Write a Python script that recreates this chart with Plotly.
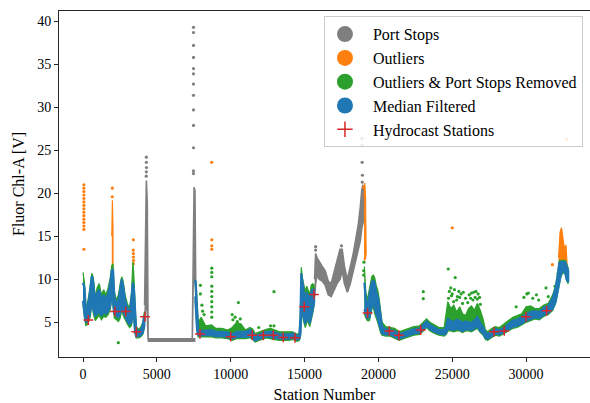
import plotly.graph_objects as go

# ---------------- data ----------------
# Median filtered series, drawn as low/high envelopes per segment
blue_a_station = [0, 100, 200, 300, 420, 520, 600, 700, 830, 950, 1100, 1250, 1400, 1550, 1700, 1850, 1950, 2030, 2120, 2250, 2400, 2520, 2620, 2720, 2850, 3000, 3150, 3280, 3380, 3440, 3520, 3600, 3750, 3900, 4050, 4150]
blue_a_low = [7.5, 6.0, 5.0, 5.2, 5.6, 6.5, 8.0, 6.5, 5.8, 6.0, 6.2, 5.8, 6.2, 6.0, 6.3, 7.0, 8.5, 7.5, 6.0, 5.8, 5.6, 6.0, 7.0, 6.3, 5.8, 5.2, 4.8, 5.0, 6.5, 6.0, 4.0, 3.4, 3.4, 3.5, 3.8, 4.6]
blue_a_high = [9.6, 9.0, 6.2, 6.6, 7.8, 9.0, 10.4, 9.6, 7.2, 8.4, 8.8, 7.6, 8.2, 7.6, 8.3, 9.5, 11.0, 11.2, 8.0, 7.0, 7.6, 8.8, 10.0, 9.2, 7.6, 6.6, 6.0, 7.8, 9.6, 9.0, 6.0, 4.2, 3.9, 4.1, 4.6, 5.8]

blue_b_station = [7600, 7650, 7720, 7800, 8000, 8300, 8700, 9000, 9400, 9800, 10100, 10400, 10700, 11000, 11300, 11500, 11650, 11800, 12100, 12400, 12700, 13000, 13300, 13600, 13900, 14200, 14500, 14650, 14720, 14780, 14850, 14950, 15050, 15150, 15250, 15350, 15450, 15550, 15650]
blue_b_low = [8.0, 6.0, 4.2, 3.5, 3.5, 3.5, 3.5, 3.4, 3.4, 3.3, 3.1, 3.3, 3.3, 3.3, 3.4, 3.2, 2.9, 3.0, 3.2, 3.4, 3.3, 3.2, 3.1, 3.1, 3.1, 3.2, 3.0, 3.1, 3.6, 6.0, 6.5, 5.5, 4.8, 5.5, 5.5, 4.9, 5.8, 6.5, 7.4]
blue_b_high = [9.9, 9.0, 6.5, 4.1, 4.0, 4.0, 4.1, 3.9, 3.9, 3.8, 3.6, 3.9, 3.9, 3.9, 4.1, 3.8, 3.4, 3.5, 3.7, 3.9, 3.9, 3.8, 3.6, 3.6, 3.6, 3.7, 3.4, 3.6, 5.5, 10.7, 9.5, 8.5, 7.5, 8.5, 8.0, 7.5, 8.5, 8.8, 8.8]

blue_c_station = [19050, 19150, 19250, 19400, 19550, 19650, 19750, 19850, 19950, 20050, 20150, 20250, 20500, 20800, 21100, 21400, 21700, 22000, 22400, 22800, 23050, 23260, 23500, 23800, 24100, 24450, 24600, 24700, 24900, 25100, 25300, 25500, 25700, 25900, 26100, 26300, 26500, 26700, 26900, 27100, 27250, 27400, 27600, 27900, 28200, 28500, 28800, 29100, 29400, 29700, 30000, 30300, 30600, 30900, 31200, 31500, 31800, 32000, 32150, 32250, 32350, 32500, 32650, 32750, 32850]
blue_c_low = [6.5, 6.0, 5.5, 5.6, 7.0, 7.2, 6.5, 6.0, 5.5, 5.0, 4.2, 3.7, 3.6, 3.6, 3.4, 3.1, 3.3, 3.5, 3.7, 3.8, 4.2, 4.6, 4.2, 3.9, 3.7, 3.6, 3.8, 4.3, 4.2, 4.1, 4.3, 4.2, 4.0, 4.2, 4.2, 4.1, 4.3, 4.6, 4.0, 3.7, 3.2, 3.1, 3.4, 3.7, 3.6, 3.8, 4.2, 4.5, 4.6, 4.9, 5.2, 5.4, 5.6, 5.5, 5.9, 6.1, 6.6, 7.4, 8.5, 9.5, 10.5, 11.0, 10.8, 10.0, 9.7]
blue_c_high = [9.6, 7.5, 6.8, 8.0, 9.6, 9.9, 9.5, 8.5, 8.0, 7.0, 5.8, 4.5, 4.2, 4.1, 4.0, 3.6, 3.8, 4.0, 4.2, 4.3, 4.8, 5.1, 4.7, 4.4, 4.1, 4.1, 4.5, 5.4, 5.2, 5.0, 5.3, 5.2, 4.9, 5.1, 5.0, 4.9, 5.2, 5.6, 4.9, 4.4, 3.8, 3.6, 3.9, 4.2, 4.1, 4.3, 4.8, 5.2, 5.3, 5.6, 6.0, 6.2, 6.3, 6.2, 6.7, 6.9, 7.8, 9.0, 10.5, 11.9, 12.0, 12.0, 12.0, 11.5, 11.0]

# Outliers & port stops removed (green) envelopes, same stations as blue segments
green_a_low = [7.2, 5.5, 4.6, 4.8, 5.2, 6.0, 7.5, 6.0, 5.2, 5.5, 5.8, 5.3, 5.7, 5.6, 5.9, 6.5, 8.0, 7.0, 5.5, 5.3, 5.1, 5.5, 6.5, 5.8, 5.3, 4.8, 4.4, 4.6, 6.0, 5.5, 3.7, 3.2, 3.2, 3.3, 3.6, 4.4]
green_a_high = [10.8, 9.6, 6.8, 7.2, 8.4, 9.6, 10.7, 10.2, 7.8, 9.0, 9.5, 8.2, 8.8, 8.2, 9.0, 10.2, 11.6, 11.8, 8.6, 7.6, 8.2, 9.5, 10.3, 9.8, 8.2, 7.2, 6.6, 8.4, 12.0, 10.5, 7.0, 4.5, 4.2, 4.4, 5.0, 6.2]
green_b_low = [7.5, 5.5, 4.0, 3.3, 3.3, 3.3, 3.3, 3.2, 3.2, 3.1, 2.9, 3.1, 3.1, 3.1, 3.2, 3.0, 2.7, 2.8, 3.0, 3.2, 3.1, 3.0, 2.9, 2.9, 2.9, 3.0, 2.8, 2.9, 3.4, 5.6, 6.0, 5.0, 4.4, 5.0, 5.0, 4.5, 5.3, 6.0, 7.0]
green_b_high = [10.0, 9.6, 7.5, 5.0, 5.6, 4.6, 4.7, 4.3, 4.3, 4.1, 4.4, 5.0, 4.8, 4.1, 4.4, 4.2, 3.7, 3.8, 4.0, 4.2, 4.3, 4.1, 3.9, 3.9, 3.9, 3.9, 3.6, 3.8, 6.0, 11.4, 10.2, 9.2, 8.6, 9.2, 8.8, 8.2, 9.3, 9.5, 9.3]
green_c_low = [6.0, 5.5, 5.2, 5.2, 6.5, 6.8, 6.0, 5.5, 5.0, 4.5, 3.8, 3.5, 3.4, 3.4, 3.2, 2.9, 3.1, 3.3, 3.5, 3.6, 4.0, 4.4, 4.0, 3.7, 3.5, 3.4, 3.6, 4.0, 4.0, 3.9, 4.0, 4.0, 3.8, 4.0, 4.0, 3.9, 4.1, 4.3, 3.8, 3.5, 3.0, 2.9, 3.2, 3.5, 3.4, 3.6, 4.0, 4.3, 4.4, 4.7, 5.0, 5.2, 5.4, 5.3, 5.7, 5.9, 6.4, 7.2, 8.3, 9.3, 10.3, 10.8, 10.6, 9.8, 9.5]
green_c_high = [11.5, 8.5, 7.6, 8.8, 10.3, 10.5, 10.2, 9.3, 8.8, 7.8, 6.5, 5.0, 4.5, 4.4, 4.3, 3.9, 4.1, 4.3, 4.5, 4.6, 5.1, 5.4, 5.0, 4.7, 4.4, 4.4, 6.0, 7.4, 6.6, 7.0, 6.2, 6.8, 6.0, 5.8, 6.6, 6.9, 6.4, 7.2, 6.4, 5.3, 4.1, 3.9, 4.2, 4.5, 4.4, 4.8, 5.3, 5.6, 5.8, 6.0, 6.8, 6.9, 6.6, 6.6, 7.0, 7.2, 8.2, 9.3, 11.0, 12.2, 12.2, 12.2, 12.2, 11.8, 11.3]

green_pts_station = [2390, 7950, 7950, 8050, 8100, 8200, 8720, 8720, 8720, 8720, 8720, 8720, 8720, 8720, 8720, 8720, 10100, 10150, 10300, 10450, 10520, 10650, 11900, 12700, 12930, 12930,
                     19000, 19000, 19020, 23040, 23040, 24730, 25200, 24800, 24900, 25000, 25150, 25350, 25450, 25600, 25750, 25900, 26150, 26300, 26450, 26600, 26750, 26850,
                     24750, 24950, 25100, 25300, 25500, 25700, 26050, 26250, 26400, 26550, 26700, 26900,
                     29330, 29850, 30050, 30150, 30450, 30700, 30850, 31350, 31500, 31960, 32170]
green_pts_value = [2.63, 9.3, 8.3, 7.0, 6.3, 5.9, 11.3, 10.8, 10.3, 9.2, 8.6, 8.0, 7.4, 6.8, 6.2, 5.6, 5.9, 5.3, 5.6, 5.1, 7.3, 5.4, 4.4, 4.6, 8.56, 4.6,
                   10.5, 11.0, 12.0, 8.56, 7.75, 11.2, 10.2, 8.6, 9.0, 8.3, 8.8, 8.0, 8.6, 8.3, 8.5, 7.8, 8.2, 8.4, 8.5, 8.6, 8.3, 7.9,
                   7.8, 8.1, 7.4, 7.6, 7.9, 7.2, 7.3, 7.8, 7.6, 7.9, 7.7, 7.1,
                   6.8, 7.9, 8.3, 8.4, 7.8, 8.2, 7.6, 9.0, 8.0, 9.2, 10.7]

# Port stops (grey)
grey_a_station = [4170, 4230, 4290, 4350, 4410]
grey_a_low = [5.8, 6.5, 8.0, 6.0, 3.0]
grey_a_high = [7.0, 16.0, 21.5, 19.0, 8.0]
grey_flat_station = [4380, 7560]
grey_flat_low = [2.8, 2.8]
grey_flat_high = [3.1, 3.1]
grey_b_station = [7400, 7460, 7520, 7580, 7640]
grey_b_low = [3.0, 9.5, 11.0, 10.0, 8.0]
grey_b_high = [3.1, 18.0, 20.7, 20.3, 12.0]
grey_c_station = [15680, 15750, 15850, 16000, 16200, 16400, 16600, 16800, 17000, 17200, 17400, 17550, 17700, 17900, 18100, 18300, 18500, 18650, 18780, 18880, 18960, 19020]
grey_c_low = [8.0, 9.5, 10.5, 10.0, 9.8, 9.3, 8.2, 8.0, 8.8, 9.5, 10.0, 11.0, 9.5, 8.5, 9.5, 11.0, 12.5, 13.5, 14.5, 16.0, 16.5, 17.0]
grey_c_high = [10.0, 13.0, 12.5, 12.0, 11.5, 11.0, 9.8, 9.5, 10.8, 12.0, 13.5, 13.5, 11.5, 10.0, 11.5, 13.0, 15.0, 16.5, 18.5, 20.5, 21.0, 19.0]
grey_pts_station = [4290, 4290, 4300, 4290, 4280, 7480, 7480, 7480, 7480, 7480, 7480, 7480, 7480, 7480, 7480, 7480, 7480, 7480, 15750, 15750, 17500, 18880, 18880, 18900, 18920, 18910]
grey_pts_value = [24.2, 23.6, 23.0, 22.5, 22.0, 39.3, 38.7, 37.2, 35.8, 34.5, 33.9, 32.7, 31.4, 29.7, 27.9, 25.3, 22.6, 22.3, 13.8, 13.4, 13.9, 26.4, 25.6, 23.6, 22.1, 21.3]

# Outliers (orange)
orange_pts_station = [60, 60, 60, 60, 60, 60, 60, 60, 60, 60, 60, 60, 60, 60, 60, 1990, 1980, 3410, 3400, 3410, 3410, 3420, 3410, 8710, 8720, 8720, 8720, 19000, 25000, 31780, 32750]
orange_pts_value = [21.0, 20.6, 20.2, 19.8, 19.4, 19.0, 18.6, 18.2, 17.8, 17.4, 17.0, 16.6, 16.2, 15.8, 13.5, 20.6, 19.6, 14.6, 13.4, 13.0, 12.6, 12.2, 11.8, 23.6, 14.6, 13.9, 13.5, 20.7, 16.0, 11.7, 26.3]
orange_a_station = [1950, 1990, 2030]
orange_a_low = [11.4, 11.4, 11.4]
orange_a_high = [15.0, 19.2, 16.0]
orange_b_station = [19030, 19080, 19130, 19170]
orange_b_low = [12.5, 12.2, 12.5, 13.0]
orange_b_high = [19.5, 21.2, 19.5, 15.0]
orange_c_station = [32200, 32300, 32400, 32500, 32600, 32700, 32780]
orange_c_low = [11.8, 12.0, 12.0, 12.0, 12.0, 12.0, 11.6]
orange_c_high = [12.5, 15.5, 16.0, 14.5, 13.5, 14.0, 12.5]

# Hydrocast stations
hydro_station = [360, 2170, 2890, 3610, 4200, 7920, 10000, 11460, 12210, 12890, 13560, 14350, 14980, 15640, 19270, 20740, 21390, 22860, 27830, 28520, 29990, 31390]
hydro_value = [5.27, 6.25, 6.25, 3.9, 5.65, 3.65, 3.33, 3.5, 3.5, 3.5, 3.25, 3.2, 6.8, 8.25, 6.1, 4.0, 3.5, 4.1, 3.9, 4.0, 5.65, 6.35]

legend_names = ["Port Stops", "Outliers", "Outliers & Port Stops Removed", "Median Filtered", "Hydrocast Stations"]

# ---------------- styling ----------------
GREY, ORANGE, GREEN, BLUE, RED = "#7f7f7f", "#ff7f0e", "#2ca02c", "#1f77b4", "#d62728"
FONT = "Liberation Serif"

fig = go.Figure()


def band(st, lo, hi, color, lw=1.6):
    fig.add_trace(go.Scatter(
        x=list(st) + list(st)[::-1], y=list(hi) + list(lo)[::-1],
        mode="lines", fill="toself", fillcolor=color,
        line=dict(color=color, width=lw), showlegend=False, hoverinfo="skip"))


def points(st, val, color, size=3.2):
    fig.add_trace(go.Scatter(x=st, y=val, mode="markers",
                             marker=dict(color=color, size=size, line=dict(width=0)),
                             showlegend=False, hoverinfo="skip"))


# grey port stops
band(grey_a_station, grey_a_low, grey_a_high, GREY)
band(grey_flat_station, grey_flat_low, grey_flat_high, GREY)
band(grey_b_station, grey_b_low, grey_b_high, GREY)
band(grey_c_station, grey_c_low, grey_c_high, GREY)
points(grey_pts_station, grey_pts_value, GREY)

# orange outliers
band(orange_a_station, orange_a_low, orange_a_high, ORANGE, 1.2)
band(orange_b_station, orange_b_low, orange_b_high, ORANGE, 1.2)
band(orange_c_station, orange_c_low, orange_c_high, ORANGE, 1.2)
points(orange_pts_station, orange_pts_value, ORANGE)

# green
band(blue_a_station, green_a_low, green_a_high, GREEN, 1.2)
band(blue_b_station, green_b_low, green_b_high, GREEN, 1.2)
band(blue_c_station, green_c_low, green_c_high, GREEN, 1.2)
points(green_pts_station, green_pts_value, GREEN)

# blue median filtered
band(blue_a_station, blue_a_low, blue_a_high, BLUE, 2.2)
band(blue_b_station, blue_b_low, blue_b_high, BLUE, 2.2)
band(blue_c_station, blue_c_low, blue_c_high, BLUE, 2.2)

# hydrocast stations
fig.add_trace(go.Scatter(x=hydro_station, y=hydro_value, mode="markers",
                         marker=dict(symbol="cross-thin", size=7, line=dict(color=RED, width=1.5)),
                         showlegend=False, hoverinfo="skip"))

# legend-only entries
PAD = "\u00a0\u00a0"
legend_colors = [GREY, ORANGE, GREEN, BLUE]
for name, col in zip(legend_names[:4], legend_colors):
    fig.add_trace(go.Scatter(x=[None], y=[None], mode="markers", name=PAD + name,
                             marker=dict(color=col, size=16, line=dict(width=0))))
fig.add_trace(go.Scatter(x=[None], y=[None], mode="markers", name=PAD + legend_names[4],
                         marker=dict(symbol="cross-thin", size=11, line=dict(color=RED, width=1.5))))

axis_common = dict(showline=True, linecolor="#262626", linewidth=1.1, ticks="outside",
                   ticklen=4, tickwidth=1, tickcolor="#262626", showgrid=False, zeroline=False,
                   tickfont=dict(family=FONT, size=14, color="black"))

fig.update_layout(
    width=590, height=403,
    margin=dict(l=59, r=0, t=11, b=46),
    paper_bgcolor="white", plot_bgcolor="white",
    font=dict(family=FONT, color="black"),
    xaxis=dict(range=[-1625, 34327], tickvals=[0, 5000, 10000, 15000, 20000, 25000, 30000],
               ticktext=["0", "5000", "10000", "15000", "20000", "25000", "30000"],
               mirror=True,
               title=dict(text="Station Number", font=dict(family=FONT, size=16), standoff=7),
               **axis_common),
    yaxis=dict(range=[0.97, 41.2], tickvals=[5, 10, 15, 20, 25, 30, 35, 40],
               title=dict(text="Fluor Chl-A [V]", font=dict(family=FONT, size=16), standoff=8),
               **axis_common),
    legend=dict(x=0.499, y=0.985, xanchor="left", yanchor="top",
                bgcolor="rgba(255,255,255,0.85)", bordercolor="#cccccc", borderwidth=1,
                font=dict(family=FONT, size=16), itemsizing="trace"),
    showlegend=True,
)

fig.write_html("out.html")
